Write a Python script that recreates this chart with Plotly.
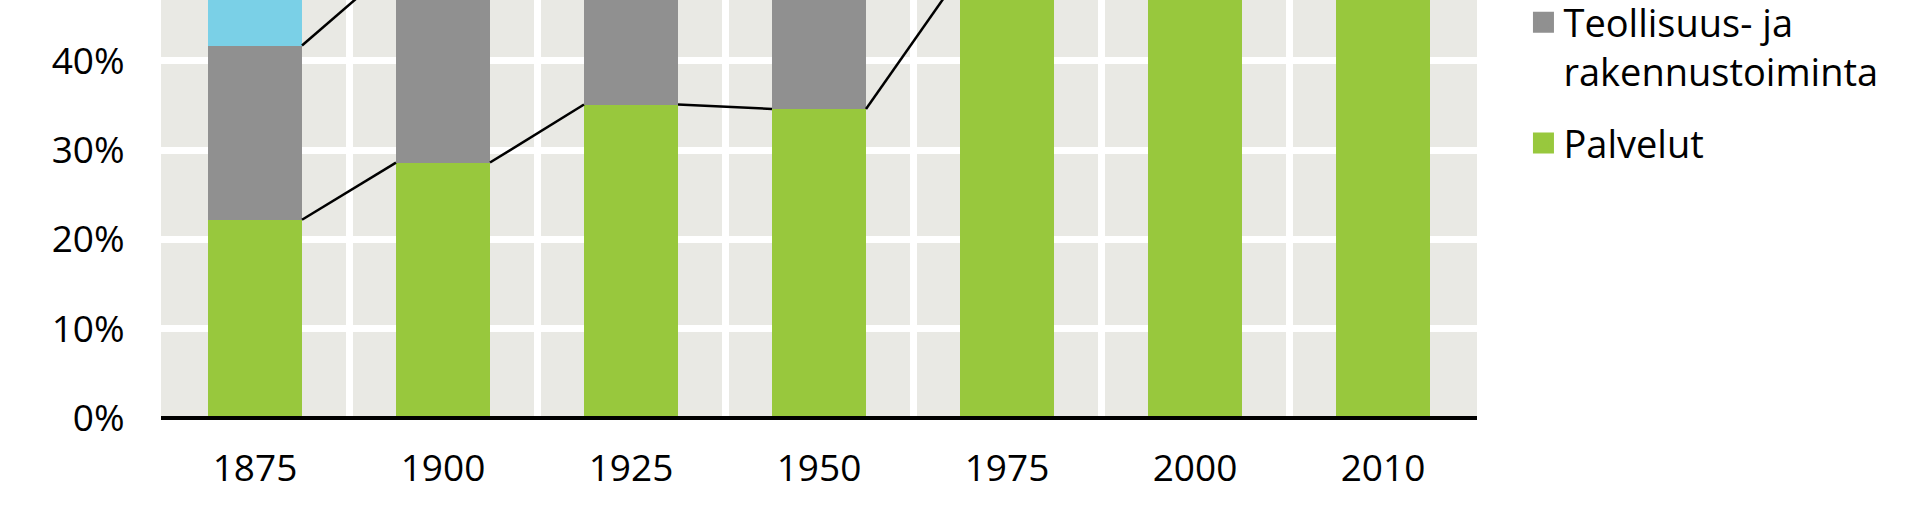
import plotly.graph_objects as go

# ---- data ----
years = ["1875", "1900", "1925", "1950", "1975", "2000", "2010"]
palvelut = [22.2, 28.6, 35.1, 34.6, 49.6, 69.0, 73.0]          # services
teollisuus = [19.5, 22.2, 24.0, 27.0, 34.0, 26.0, 23.0]        # industry & construction
maatalous = [58.3, 49.2, 40.9, 38.4, 16.4, 5.0, 4.0]           # top segment (cut off)
y_tick_vals = [0, 10, 20, 30, 40]
y_tick_text = ["0%", "10%", "20%", "30%", "40%"]

name_green = "Palvelut"
name_gray = "Teollisuus- ja<br>rakennustoiminta"
name_blue = "Maa- ja metsätalous"

# ---- style ----
GREEN = "#98C83D"
GRAY = "#909090"
BLUE = "#7AD0E7"
BG = "#E9E9E4"
FONT = "Open Sans"
BAR_W = 0.5

idx = list(range(len(years)))

fig = go.Figure()
for vals, col, nm in [(palvelut, GREEN, name_green),
                      (teollisuus, GRAY, name_gray),
                      (maatalous, BLUE, name_blue)]:
    fig.add_trace(go.Bar(x=idx, y=vals, width=BAR_W, marker=dict(color=col, line=dict(width=0)),
                         name=nm, showlegend=False, legendgroup=nm, hoverinfo="skip"))


def connector(tops):
    xs, ys = [], []
    for i in range(len(tops) - 1):
        xs += [i + BAR_W / 2, i + 1 - BAR_W / 2, None]
        ys += [tops[i], tops[i + 1], None]
    return xs, ys


top_green = palvelut
top_gray = [a + b for a, b in zip(palvelut, teollisuus)]
for tops in (top_green, top_gray):
    xs, ys = connector(tops)
    fig.add_trace(go.Scatter(x=xs, y=ys, mode="lines", line=dict(color="black", width=2.5),
                             showlegend=False, hoverinfo="skip"))

# legend entries (square swatches)
for col, nm, grp in [(GRAY, name_gray, "g1"), (GREEN, name_green, "g2")]:
    fig.add_trace(go.Scatter(x=[None], y=[None], mode="markers", name=nm, legendgroup=grp,
                             marker=dict(symbol="square", size=16, color=col,
                                         line=dict(color=col, width=5))))

fig.update_layout(
    width=1914, height=516,
    margin=dict(l=161, r=437, t=0, b=98, autoexpand=False),
    barmode="stack",
    paper_bgcolor="white",
    plot_bgcolor=BG,
    font=dict(family=FONT, size=37, color="black"),
    showlegend=True,
    legend=dict(x=1.0353, xanchor="left", y=1.0215, yanchor="top", valign="top",
                font=dict(family=FONT, size=38, color="black"),
                traceorder="grouped", tracegroupgap=19, itemsizing="trace",
                bgcolor="rgba(0,0,0,0)"),
    xaxis=dict(range=[-0.5, len(years) - 0.5], tickmode="array", tickvals=idx, ticktext=years,
               showgrid=False, zeroline=False, showline=False,
               ticks="outside", ticklen=18, tickcolor="rgba(0,0,0,0)",
               minor=dict(tickvals=[i - 0.5 for i in range(len(years) + 1)],
                          showgrid=True, gridcolor="white", gridwidth=7, ticks="")),
    yaxis=dict(range=[0, 46.8], tickmode="array", tickvals=y_tick_vals, ticktext=y_tick_text,
               showgrid=True, gridcolor="white", gridwidth=7, zeroline=False, showline=False,
               ticks="outside", ticklen=28, tickcolor="rgba(0,0,0,0)"),
    shapes=[dict(type="line", xref="paper", yref="paper", x0=0, x1=1, y0=0, y1=0,
                 line=dict(color="black", width=4), layer="above")],
)

fig.write_html("out.html", config={"displayModeBar": False},
               post_script="document.body.style.margin='0';")
